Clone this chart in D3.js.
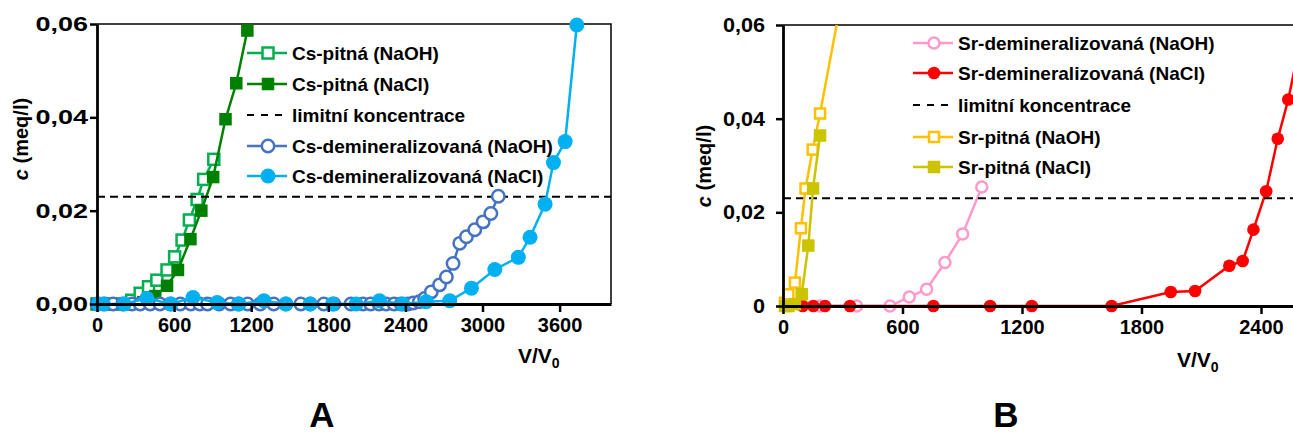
<!DOCTYPE html>
<html>
<head>
<meta charset="utf-8">
<script src="https://cdn.jsdelivr.net/npm/d3@7"></script>
<style>
  html, body { margin: 0; padding: 0; background: #fff; }
  svg { display: block; font-family: "Liberation Sans", Arial, sans-serif; font-weight: bold; }
</style>
</head>
<body>
<svg id="chart" width="1293" height="435"></svg>
<script>
// ---- data: [V/V0, c (meq/l)] ----
const limitConc = 0.023;

// panel A (Cs)
const csPitnaNaOH = [[0,0],[100,0],[200,0],[270,0.0008],[336,0.0023],[401,0.0037],[466,0.0051],[545,0.0073],[604,0.0101],[662,0.0137],[719,0.0180],[779,0.0224],[830,0.0267],[909,0.0310]];
const csPitnaNaCl = [[0,0],[120,0],[240,0],[360,0.0004],[453,0.0017],[545,0.0039],[630,0.0073],[727,0.0139],[812,0.0200],[904,0.0272],[1000,0.0396],[1084,0.0473],[1170,0.0586]];
const csDeminNaOH = [[0,0],[60,0],[125,0],[200,0],[273,0],[336,0],[414,0],[490,0],[570,0],[648,0],[730,0],[800,0],[860,0],[950,0],[1039,0],[1100,0],[1172,0],[1270,0],[1375,0],[1470,0],[1586,0],[1660,0],[1765,0],[1844,0],[1976,0],[2070,0],[2130,0],[2195,0],[2250,0],[2312,0],[2367,0],[2420,0],[2461,0.0002],[2508,0.0005],[2550,0.0012],[2602,0.0026],[2666,0.0041],[2719,0.0058],[2771,0.0087],[2823,0.0130],[2875,0.0144],[2940,0.0159],[3005,0.0176],[3065,0.0194],[3123,0.0231]];
const csDeminNaCl = [[10,0],[49,0],[211,0],[388,0.0012],[576,0],[747,0.0014],[935,0.0003],[1104,0],[1299,0.0007],[1469,0],[1659,0],[1833,0],[2016,0],[2198,0.0007],[2380,0],[2562,0.0005],[2745,0.0007],[2914,0.0034],[3096,0.0074],[3279,0.0100],[3370,0.0143],[3487,0.0214],[3552,0.0303],[3643,0.0348],[3734,0.0598]];

// panel B (Sr)
const srDeminNaOH = [[186,0],[370,0],[537,0],[634,0.0019],[721,0.0036],[813,0.0093],[902,0.0154],[998,0.0254]];
const srDeminNaCl = [[99,0],[152,0],[211,0],[336,0],[755,0],[1040,0],[1249,0],[1650,0],[1947,0.0030],[2069,0.0032],[2241,0.0086],[2308,0.0096],[2362,0.0163],[2426,0.0245],[2484,0.0357],[2537,0.0441],[2600,0.057]];
const srPitnaNaOH = [[10,0.0007],[27,0.0025],[60,0.0050],[90,0.0166],[113,0.0251],[149,0.0334],[186,0.0411],[300,0.067]];
const srPitnaNaCl = [[10,0],[27,0],[60,0.0004],[94,0.0025],[127,0.0129],[151,0.0251],[186,0.0364]];

// tick labels
const yTicks = [0, 0.02, 0.04, 0.06];
const yLabelsA = ["0,00", "0,02", "0,04", "0,06"];
const yLabelsB = ["0", "0,02", "0,04", "0,06"];
const xTicksA = [0, 600, 1200, 1800, 2400, 3000, 3600];
const xTicksB = [0, 600, 1200, 1800, 2400];

const panels = [
  {
    id: "A", clipId: "clipA",
    xDomain: [0, 4000], xRange: [97, 611], yRange: [304, 24],
    xTicks: xTicksA, yLabels: yLabelsA, yLabelScale: 1.35, yLabelGap: 9,
    yTitle: { x: 28, y: 139 }, xTitle: { x: 518, y: 363 },
    letter: { x: 322, y: 427 },
    legend: { x: 247, ys: [53, 84, 115, 146, 176] },
    series: [
      { name: "Cs-pitná (NaOH)", data: csPitnaNaOH, color: "#00B050", marker: "square", open: true, size: 11 },
      { name: "Cs-pitná (NaCl)", data: csPitnaNaCl, color: "#008000", marker: "square", open: false, size: 12.5 },
      { name: "limitní koncentrace", limit: true },
      { name: "Cs-demineralizovaná (NaOH)", data: csDeminNaOH, color: "#4472C4", marker: "circle", open: true, size: 6.2 },
      { name: "Cs-demineralizovaná (NaCl)", data: csDeminNaCl, color: "#00B0F0", marker: "circle", open: false, size: 7.5 }
    ]
  },
  {
    id: "B", clipId: "clipB",
    xDomain: [0, 2700], xRange: [783, 783 + 2700 / 600 * 119.5], yRange: [306, 25],
    xTicks: xTicksB, yLabels: yLabelsB, yLabelScale: 1.08, yLabelGap: 18,
    yTitle: { x: 711, y: 166 }, xTitle: { x: 1177, y: 367 },
    letter: { x: 1006, y: 427 },
    legend: { x: 913, ys: [43, 73, 105, 137, 167] },
    series: [
      { name: "Sr-demineralizovaná (NaOH)", data: srDeminNaOH, color: "#FF99CC", marker: "circle", open: true, size: 5.5 },
      { name: "Sr-demineralizovaná (NaCl)", data: srDeminNaCl, color: "#FF0000", marker: "circle", open: false, size: 6.3 },
      { name: "limitní koncentrace", limit: true },
      { name: "Sr-pitná (NaOH)", data: srPitnaNaOH, color: "#FFC000", marker: "square", open: true, size: 10 },
      { name: "Sr-pitná (NaCl)", data: srPitnaNaCl, color: "#CCC400", marker: "square", open: false, size: 12.5 }
    ]
  }
];

const svg = d3.select("#chart");
svg.append("rect").attr("width", 1293).attr("height", 435).attr("fill", "#fff");
const defs = svg.append("defs");

function drawMarker(g, s, cx, cy) {
  if (s.marker === "square") {
    g.append("rect")
      .attr("x", cx - s.size / 2).attr("y", cy - s.size / 2)
      .attr("width", s.size).attr("height", s.size)
      .attr("fill", s.open ? "#fff" : s.color)
      .attr("stroke", s.color).attr("stroke-width", s.open ? 2.5 : 0);
  } else {
    g.append("circle")
      .attr("cx", cx).attr("cy", cy).attr("r", s.size)
      .attr("fill", s.open ? "#fff" : s.color)
      .attr("stroke", s.color).attr("stroke-width", s.open ? 2.5 : 0);
  }
}

panels.forEach(p => {
  const x = d3.scaleLinear().domain(p.xDomain).range(p.xRange);
  const y = d3.scaleLinear().domain([0, 0.06]).range(p.yRange);
  const [x0, x1] = p.xRange, [yb, yt] = p.yRange;

  defs.append("clipPath").attr("id", p.clipId)
    .append("rect").attr("x", x0).attr("y", yt).attr("width", x1 - x0).attr("height", yb - yt);

  // plot-area border (top & right)
  svg.append("path")
    .attr("d", `M${x0},${yt}H${x1}V${yb}`)
    .attr("fill", "none").attr("stroke", "#000").attr("stroke-width", 1.5);

  const plot = svg.append("g");
  const line = d3.line().x(d => x(d[0])).y(d => y(d[1]));

  p.series.forEach(s => {
    if (s.limit) {
      plot.append("line")
        .attr("x1", x0).attr("x2", x1).attr("y1", y(limitConc)).attr("y2", y(limitConc))
        .attr("stroke", "#000").attr("stroke-width", 2).attr("stroke-dasharray", "8,5")
        .attr("clip-path", `url(#${p.clipId})`);
      return;
    }
    plot.append("path").datum(s.data)
      .attr("d", line).attr("fill", "none")
      .attr("stroke", s.color).attr("stroke-width", 2.5)
      .attr("clip-path", `url(#${p.clipId})`);
    const mg = plot.append("g");
    s.data.filter(d => d[1] <= 0.0601 && d[0] <= p.xDomain[1])
      .forEach(d => drawMarker(mg, s, x(d[0]), y(d[1])));
  });

  // axes
  const yAxis = svg.append("g").attr("transform", `translate(${x0},0)`)
    .call(d3.axisLeft(y).tickValues(yTicks).tickSize(7).tickSizeOuter(0)
      .tickFormat((d, i) => p.yLabels[i]));
  const xAxis = svg.append("g").attr("transform", `translate(0,${yb})`)
    .call(d3.axisBottom(x).tickValues(p.xTicks).tickSize(8).tickSizeOuter(0)
      .tickFormat(d3.format("d")));
  [yAxis, xAxis].forEach(a => {
    a.selectAll("path.domain").attr("stroke", "#000").attr("stroke-width", 2.8);
    a.selectAll(".tick line").attr("stroke", "#000").attr("stroke-width", 2.5);
    a.selectAll(".tick text").attr("fill", "#000").style("font-size", "20px")
      .style("font-family", '"Liberation Sans", Arial, sans-serif').style("font-weight", "bold");
  });
  yAxis.selectAll(".tick text")
    .attr("x", -p.yLabelGap / p.yLabelScale)
    .attr("transform", `scale(${p.yLabelScale},1)`);
  xAxis.selectAll(".tick text").attr("y", 14).attr("dy", "0.71em");

  // axis titles
  const yt1 = svg.append("text")
    .attr("transform", `translate(${p.yTitle.x},${p.yTitle.y}) rotate(-90)`)
    .attr("text-anchor", "middle").style("font-size", "20px");
  yt1.append("tspan").style("font-style", "italic").text("c");
  yt1.append("tspan").text(" (meq/l)");

  const xt = svg.append("text").attr("x", p.xTitle.x).attr("y", p.xTitle.y).style("font-size", "21px");
  xt.append("tspan").text("V/V");
  xt.append("tspan").attr("dy", 5).style("font-size", "14px").text("0");

  // legend
  p.series.forEach((s, i) => {
    const ly = p.legend.ys[i];
    const lg = svg.append("g");
    if (s.limit) {
      lg.append("line").attr("x1", p.legend.x).attr("x2", p.legend.x + 40)
        .attr("y1", ly).attr("y2", ly)
        .attr("stroke", "#000").attr("stroke-width", 2).attr("stroke-dasharray", "7,7");
    } else {
      lg.append("line").attr("x1", p.legend.x).attr("x2", p.legend.x + 40)
        .attr("y1", ly).attr("y2", ly)
        .attr("stroke", s.color).attr("stroke-width", 2.5);
      drawMarker(lg, s, p.legend.x + 21, ly);
    }
    lg.append("text").attr("x", p.legend.x + 45).attr("y", ly).attr("dy", "0.35em")
      .style("font-size", "19px").attr("fill", "#000").text(s.name);
  });

  // panel letter
  svg.append("text").attr("x", p.letter.x).attr("y", p.letter.y)
    .attr("text-anchor", "middle").style("font-size", "35px").text(p.id);
});
</script>
</body>
</html>
